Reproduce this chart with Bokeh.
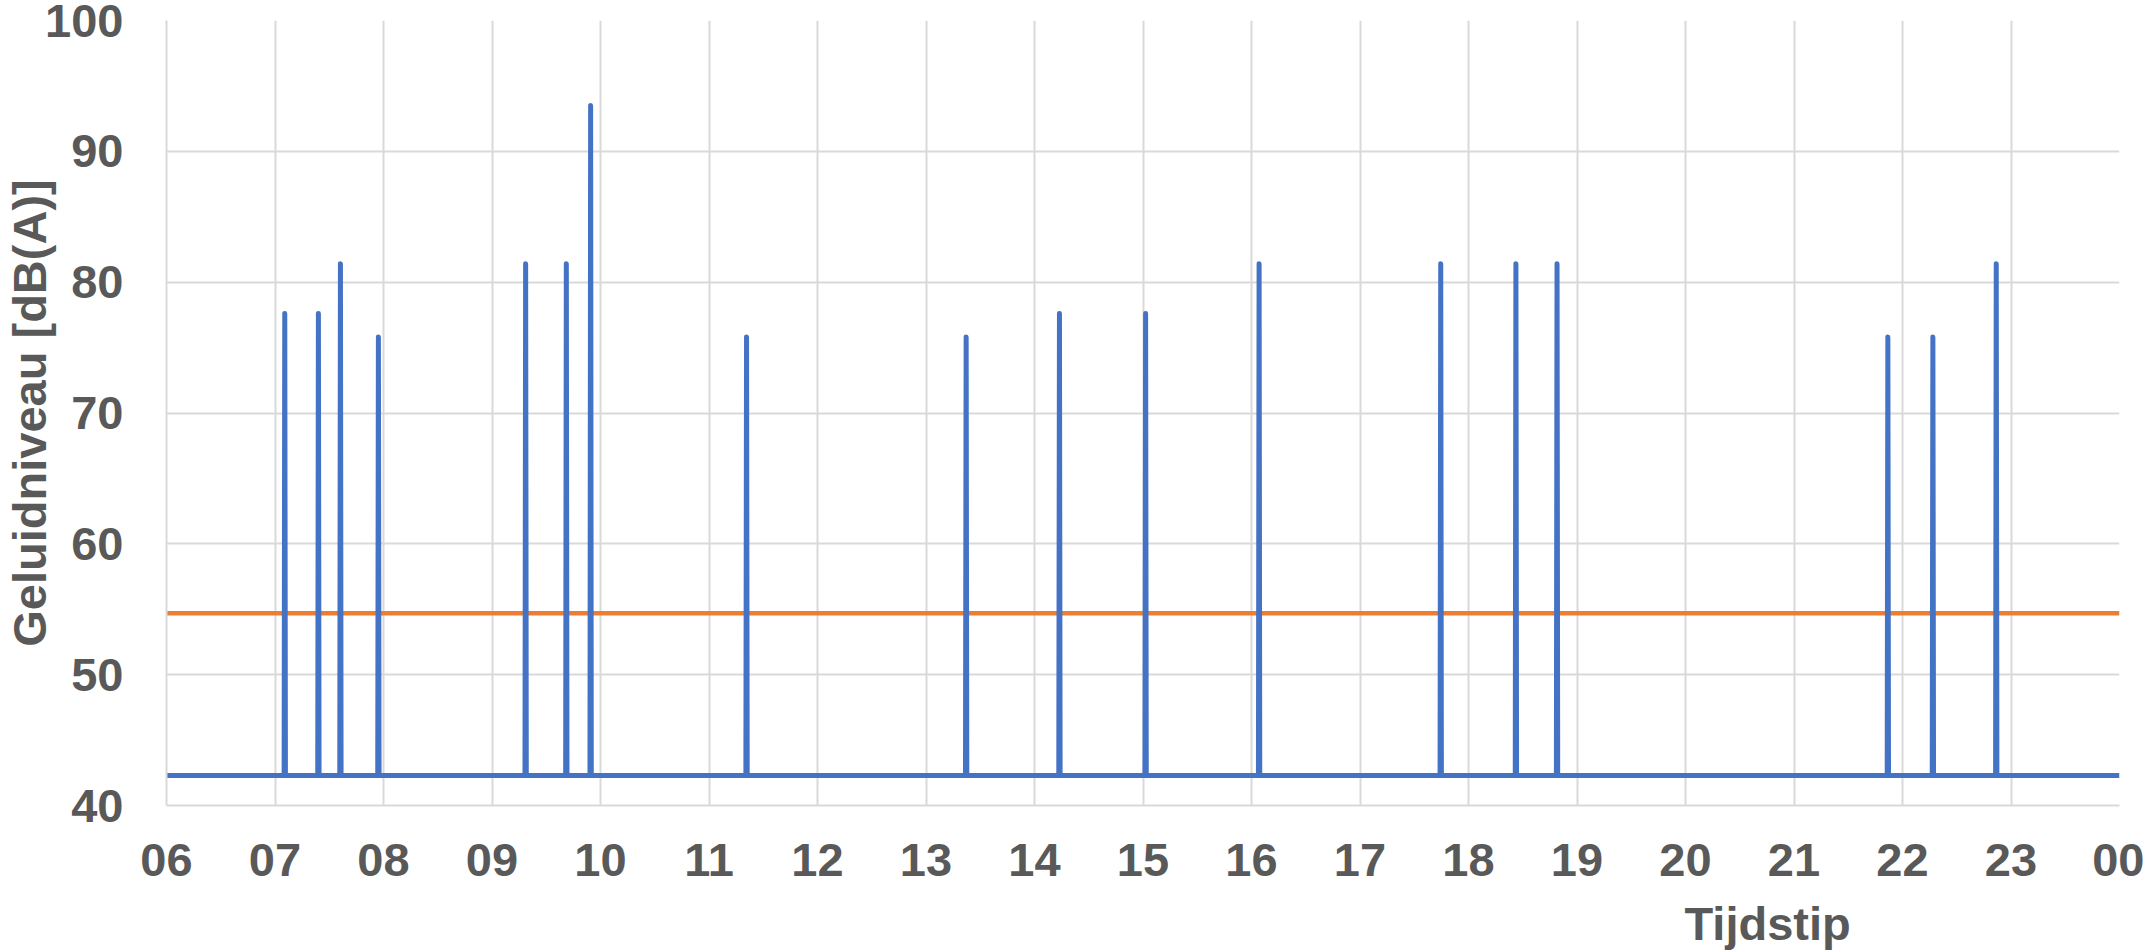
from bokeh.plotting import figure
from bokeh.models import FixedTicker, Title
from bokeh.embed import file_html
from bokeh.resources import INLINE

# ---- data ----
spike_times = [7.090, 7.400, 7.603, 7.953, 9.310, 9.685, 9.909, 11.346, 13.370,
               14.230, 15.024, 16.070, 17.744, 18.437, 18.816, 21.865, 22.280, 22.864]
spike_peaks = [77.6, 77.6, 81.4, 75.8, 81.4, 81.4, 93.5, 75.8, 75.8,
               77.6, 77.6, 81.4, 81.4, 81.4, 81.4, 75.8, 75.8, 81.4]
baseline_level = 42.3
threshold_level = 54.7
x_ticks = list(range(6, 25))
x_tick_labels = ["06", "07", "08", "09", "10", "11", "12", "13", "14", "15",
                 "16", "17", "18", "19", "20", "21", "22", "23", "00"]
y_ticks = [40, 50, 60, 70, 80, 90, 100]

# build the series
dt = 0.006
xs = [6.0]
ys = [baseline_level]
for t, pk in zip(spike_times, spike_peaks):
    xs += [t - dt, t, t + dt]
    ys += [baseline_level, pk, baseline_level]
xs.append(24.0)
ys.append(baseline_level)

FONT = "Liberation Sans"
TXT = "#595959"
FS = "47px"

p = figure(width=2144, height=987, x_range=(6, 24), y_range=(40, 100),
           output_backend="svg", toolbar_location=None,
           min_border_left=165, min_border_right=25,
           min_border_top=20, min_border_bottom=182)
p.outline_line_color = None
p.background_fill_color = "white"

p.line([6, 24], [threshold_level, threshold_level], line_color="#ED7D31", line_width=4.5)
p.line(xs, ys, line_color="#4472C4", line_width=5, line_join="round")

for ax in (p.xaxis[0], p.yaxis[0]):
    ax.axis_line_color = "#d9d9d9"
    ax.axis_line_width = 2
    ax.major_tick_line_color = None
    ax.minor_tick_line_color = None
    ax.major_tick_out = 0
    ax.major_tick_in = 0
    ax.major_label_text_font = FONT
    ax.major_label_text_font_style = "bold"
    ax.major_label_text_font_size = FS
    ax.major_label_text_color = TXT
    ax.axis_label_text_font = FONT
    ax.axis_label_text_font_style = "bold"
    ax.axis_label_text_font_size = FS
    ax.axis_label_text_color = TXT

p.xaxis.ticker = FixedTicker(ticks=x_ticks)
p.xaxis.major_label_overrides = {t: l for t, l in zip(x_ticks, x_tick_labels)}
p.xaxis.major_label_standoff = 38

p.yaxis.ticker = FixedTicker(ticks=y_ticks)
p.yaxis.major_label_standoff = 43
p.yaxis.axis_label = "Geluidniveau [dB(A)]"
p.yaxis.axis_label_standoff = -14

p.grid.grid_line_color = "#d9d9d9"
p.grid.grid_line_width = 2

p.add_layout(Title(text="Tijdstip", align="left", offset=1518, standoff=32,
                   text_font=FONT, text_font_style="bold", text_font_size=FS,
                   text_color=TXT), "below")

open("out.html", "w").write(file_html(p, INLINE))
